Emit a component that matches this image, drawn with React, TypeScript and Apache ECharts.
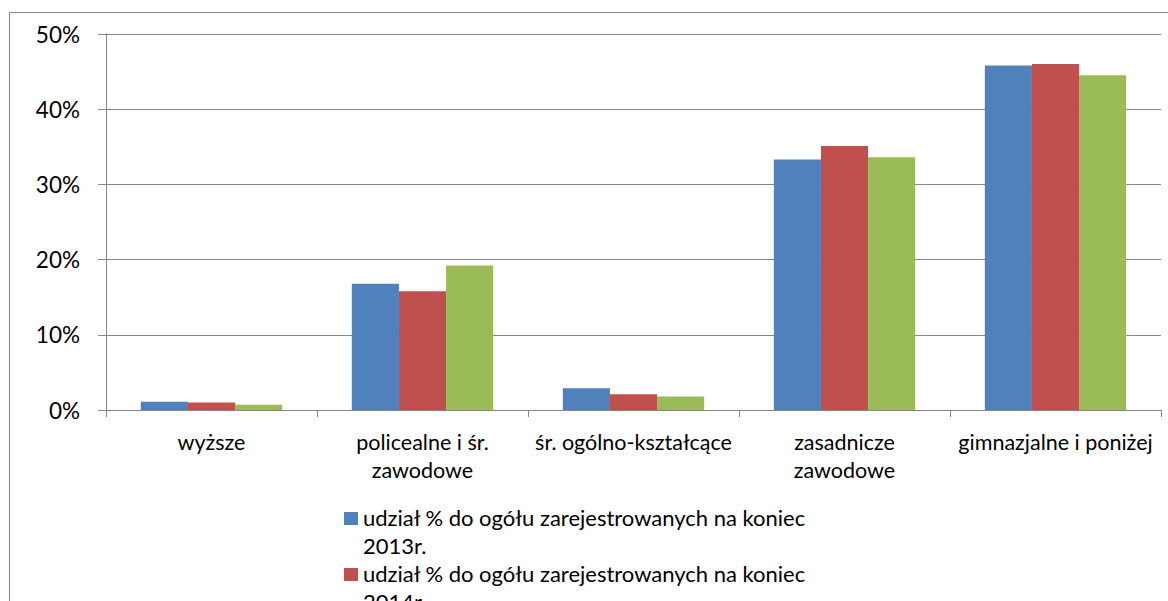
import React, { useEffect, useRef } from "react";
import * as echarts from "echarts";

const categories = [
  "wyższe",
  "policealne i śr.\nzawodowe",
  "śr. ogólno-kształcące",
  "zasadnicze\nzawodowe",
  "gimnazjalne i poniżej",
];
const seriesNames = [
  "udział % do ogółu zarejestrowanych na koniec 2013r.",
  "udział % do ogółu zarejestrowanych na koniec 2014r.",
  "udział % do ogółu zarejestrowanych na koniec 2015r.",
];
const values2013 = [1.1, 16.8, 2.9, 33.3, 45.8];
const values2014 = [1.0, 15.8, 2.1, 35.1, 46.0];
const values2015 = [0.7, 19.2, 1.8, 33.6, 44.5];
const colors = ["#4F81BD", "#C0504D", "#9BBB59"];

const FONT = "Lato";
const GRAY = "#868686";

export default function App() {
  const ref = useRef<HTMLDivElement>(null);
  useEffect(() => {
    if (!ref.current) return;
    const chart = echarts.init(ref.current, undefined, { renderer: "svg" });
    const seriesData = [values2013, values2014, values2015];
    chart.setOption({
      animation: false,
      textStyle: { fontFamily: FONT },
      graphic: [
        {
          type: "rect",
          shape: { x: 9.5, y: 12.5, width: 1300, height: 800 },
          style: { fill: "none", stroke: GRAY, lineWidth: 1 },
          silent: true,
          z: -10,
        },
      ],
      grid: { left: 106, right: 7, top: 34, bottom: 191, containLabel: false },
      legend: {
        orient: "vertical",
        left: 339,
        top: 498,
        height: 400,
        itemGap: 0,
        itemWidth: 14,
        itemHeight: 56,
        icon: "path://M0 0h0.01v0.01h-0.01Z M0 9h14v13h-14Z M0 56h0.01v0.01h-0.01Z",
        formatter: (name: string) => {
          const i = name.lastIndexOf(" ");
          return name.slice(0, i) + "\n" + name.slice(i + 1);
        },
        textStyle: { fontFamily: FONT, fontSize: 22, color: "#000", lineHeight: 28 },
        data: seriesNames,
      },
      xAxis: {
        type: "category",
        data: categories,
        axisLine: { lineStyle: { color: GRAY, width: 1 } },
        axisTick: { show: true, length: 7, lineStyle: { color: GRAY } },
        axisLabel: {
          interval: 0,
          margin: 18,
          fontFamily: FONT,
          fontSize: 21.5,
          lineHeight: 28,
          color: "#000",
        },
      },
      yAxis: {
        type: "value",
        min: 0,
        max: 50,
        interval: 10,
        axisLine: { show: true, lineStyle: { color: GRAY, width: 1 } },
        axisTick: { show: true, inside: false, length: 8, lineStyle: { color: GRAY } },
        splitLine: { show: true, lineStyle: { color: GRAY, width: 1 } },
        axisLabel: {
          formatter: "{value}%",
          margin: 26,
          fontFamily: FONT,
          fontSize: 22.5,
          color: "#000",
        },
      },
      series: seriesNames.map((name, i) => ({
        name,
        type: "bar",
        data: seriesData[i],
        barGap: "0%",
        barCategoryGap: "33%",
        itemStyle: { color: colors[i] },
      })),
    });
    return () => chart.dispose();
  }, []);
  return (
    <div
      ref={ref}
      style={{ position: "fixed", left: 0, top: 0, width: 1168, height: 601, background: "#fff" }}
    />
  );
}
